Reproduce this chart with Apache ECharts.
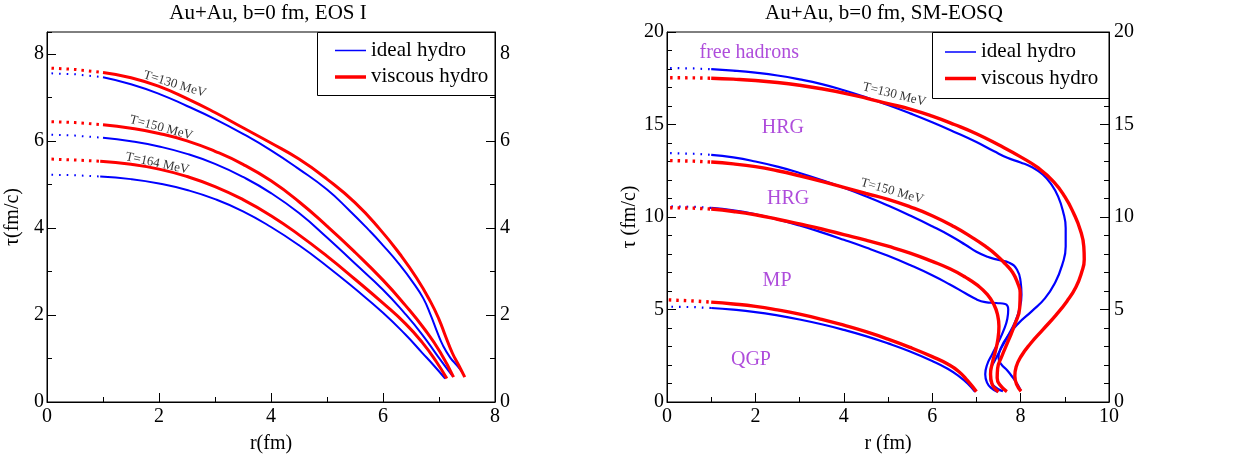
<!DOCTYPE html>
<html><head><meta charset="utf-8">
<script src="https://cdn.jsdelivr.net/npm/echarts@6/dist/echarts.min.js"></script>
<style>html,body{margin:0;padding:0;background:#fff}#c{width:1248px;height:459px}</style>
</head><body><div id="c"></div>
<script>
// ---------------- data ----------------
const leftXTicks = [0, 2, 4, 6, 8];
const leftYTicks = [0, 2, 4, 6, 8];
const rightXTicks = [0, 2, 4, 6, 8, 10];
const rightYTicks = [0, 5, 10, 15, 20];
const seriesNames = ['ideal hydro', 'viscous hydro'];

// Left panel (EOS I): r (fm), tau (fm/c)
const leftIdeal130 = [[0.08,7.55],[0.5,7.53],[1.0,7.46],[1.5,7.3],[2.0,7.08],[2.5,6.8],[3.0,6.5],[3.5,6.16],[4.0,5.78],[4.5,5.35],[5.0,4.88],[5.4,4.4],[5.74,3.96],[6.0,3.6],[6.3,3.15],[6.55,2.72],[6.72,2.38],[6.85,2.0],[6.97,1.6],[7.07,1.3],[7.2,1.02],[7.32,0.84],[7.43,0.66]];
const leftVisc130  = [[0.08,7.67],[0.5,7.64],[1.0,7.57],[1.5,7.45],[2.0,7.25],[2.5,6.97],[3.0,6.65],[3.5,6.3],[4.0,5.95],[4.5,5.58],[5.0,5.12],[5.5,4.58],[5.95,3.96],[6.3,3.4],[6.6,2.85],[6.85,2.3],[7.0,1.9],[7.12,1.5],[7.24,1.12],[7.35,0.85],[7.46,0.57]];
const leftIdeal150 = [[0.08,6.14],[0.5,6.12],[1.0,6.07],[1.5,5.99],[2.0,5.87],[2.5,5.7],[3.0,5.47],[3.5,5.17],[4.0,4.8],[4.5,4.34],[5.0,3.78],[5.5,3.18],[6.0,2.58],[6.4,2.02],[6.7,1.55],[6.98,1.05],[7.24,0.6]];
const leftVisc150  = [[0.08,6.44],[0.5,6.42],[1.0,6.37],[1.5,6.29],[2.0,6.17],[2.5,6.0],[3.0,5.76],[3.5,5.46],[4.0,5.08],[4.5,4.6],[5.0,4.04],[5.5,3.44],[6.0,2.8],[6.4,2.22],[6.75,1.66],[7.02,1.15],[7.26,0.57]];
const leftIdeal164 = [[0.08,5.22],[0.5,5.21],[0.95,5.18],[1.5,5.12],[2.0,5.02],[2.5,4.87],[3.0,4.66],[3.5,4.38],[4.0,4.02],[4.5,3.6],[5.0,3.12],[5.5,2.6],[6.0,2.05],[6.4,1.55],[6.7,1.13],[6.9,0.85],[7.11,0.54]];
const leftVisc164  = [[0.08,5.58],[0.5,5.56],[0.95,5.53],[1.5,5.46],[2.0,5.35],[2.5,5.18],[3.0,4.95],[3.5,4.65],[4.0,4.28],[4.5,3.84],[5.0,3.35],[5.5,2.82],[6.0,2.27],[6.4,1.8],[6.7,1.37],[6.95,0.93],[7.14,0.54]];

// Right panel (SM-EOSQ)
const rightIdeal130 = [[0.07,18.05],[0.6,18.03],[1.0,17.99],[1.5,17.91],[2.0,17.8],[2.5,17.65],[3.0,17.44],[3.5,17.18],[4.0,16.85],[4.5,16.47],[5.0,16.05],[5.5,15.6],[6.0,15.12],[6.5,14.6],[7.0,14.05],[7.4,13.55],[7.7,13.2],[8.0,12.95],[8.25,12.7],[8.5,12.3],[8.7,11.75],[8.85,11.1],[8.96,10.3],[9.02,9.4],[9.02,8.4],[8.94,7.4],[8.78,6.45],[8.55,5.6],[8.25,4.9],[7.95,4.25],[7.72,3.6],[7.56,2.95],[7.5,2.4],[7.56,2.05],[7.7,1.7],[7.83,1.3],[7.93,0.95],[8.0,0.62]];
const rightVisc130  = [[0.07,17.53],[0.6,17.52],[1.0,17.5],[1.5,17.45],[2.0,17.38],[2.5,17.27],[3.0,17.12],[3.5,16.93],[4.0,16.7],[4.5,16.43],[5.0,16.13],[5.5,15.83],[6.0,15.45],[6.5,15.0],[7.0,14.5],[7.5,13.9],[8.0,13.25],[8.4,12.65],[8.75,11.9],[9.0,11.1],[9.2,10.2],[9.35,9.3],[9.43,8.4],[9.44,7.7],[9.38,7.0],[9.25,6.2],[9.05,5.45],[8.8,4.7],[8.5,3.9],[8.22,3.15],[8.02,2.5],[7.9,1.9],[7.87,1.4],[7.91,0.95],[8.01,0.58]];
const rightIdeal150 = [[0.07,13.45],[0.6,13.42],[1.0,13.36],[1.5,13.22],[2.0,13.0],[2.5,12.72],[3.0,12.38],[3.5,12.0],[4.0,11.58],[4.5,11.12],[5.0,10.62],[5.5,10.08],[6.0,9.5],[6.4,9.0],[6.75,8.5],[7.0,8.12],[7.25,7.85],[7.5,7.68],[7.75,7.52],[7.92,7.15],[8.0,6.5],[8.02,5.8],[7.97,5.0],[7.87,4.3],[7.72,3.6],[7.56,2.9],[7.42,2.25],[7.32,1.7],[7.32,1.2],[7.42,0.82],[7.6,0.58]];
const rightVisc150  = [[0.07,13.05],[0.6,13.02],[1.0,12.97],[1.5,12.87],[2.0,12.72],[2.5,12.5],[3.0,12.23],[3.5,11.93],[4.0,11.6],[4.5,11.27],[5.0,10.95],[5.5,10.55],[6.0,10.07],[6.5,9.47],[6.9,8.9],[7.2,8.42],[7.45,7.95],[7.66,7.45],[7.82,7.0],[7.93,6.45],[7.99,5.9],[7.98,5.1],[7.87,4.2],[7.72,3.3],[7.58,2.5],[7.48,1.8],[7.47,1.3],[7.54,0.9],[7.69,0.56]];
const rightIdealMP  = [[0.1,10.57],[0.6,10.55],[1.0,10.49],[1.5,10.36],[2.0,10.15],[2.5,9.87],[3.0,9.54],[3.5,9.17],[4.0,8.77],[4.5,8.35],[5.0,7.9],[5.5,7.4],[6.0,6.85],[6.4,6.35],[6.75,5.88],[7.0,5.55],[7.2,5.4],[7.45,5.35],[7.65,5.3],[7.72,5.0],[7.7,4.5],[7.62,3.9],[7.5,3.25],[7.36,2.6],[7.24,2.0],[7.2,1.5],[7.24,1.05],[7.34,0.75],[7.47,0.56]];
const rightViscMP   = [[0.07,10.5],[0.6,10.48],[1.0,10.43],[1.5,10.3],[2.0,10.12],[2.5,9.88],[3.0,9.62],[3.5,9.35],[4.0,9.05],[4.5,8.75],[5.0,8.42],[5.5,8.05],[6.0,7.6],[6.4,7.2],[6.75,6.75],[7.03,6.3],[7.25,5.8],[7.4,5.25],[7.48,4.7],[7.51,4.1],[7.49,3.45],[7.43,2.75],[7.36,2.1],[7.32,1.5],[7.35,1.0],[7.41,0.75],[7.5,0.55]];
const rightIdealQGP = [[0.1,5.15],[0.6,5.13],[1.0,5.08],[1.5,4.99],[2.0,4.86],[2.5,4.68],[3.0,4.46],[3.5,4.2],[4.0,3.9],[4.5,3.56],[5.0,3.17],[5.5,2.73],[6.0,2.22],[6.35,1.8],[6.6,1.4],[6.8,1.0],[6.97,0.55]];
const rightViscQGP  = [[0.04,5.52],[0.6,5.46],[1.0,5.4],[1.5,5.3],[2.0,5.17],[2.5,4.98],[3.0,4.75],[3.5,4.47],[4.0,4.15],[4.5,3.8],[5.0,3.4],[5.5,2.95],[6.0,2.45],[6.35,2.05],[6.6,1.65],[6.8,1.15],[7.0,0.56]];

// annotation texts and anchors (data coordinates)
const leftTempLabels = ['T=130 MeV', 'T=150 MeV', 'T=164 MeV'];
const leftTempAnchors = [[2.28, 7.3], [2.04, 6.3], [1.97, 5.48]];
const leftTempAngles = [-17, -15, -12];
const rightTempLabels = ['T=130 MeV', 'T=150 MeV'];
const rightTempAnchors = [[5.14, 16.62], [5.09, 11.4]];
const rightTempAngles = [-14, -16];
const phaseLabels = ['free hadrons', 'HRG', 'HRG', 'MP', 'QGP'];
const phaseAnchors = [[1.86, 18.9], [2.62, 14.84], [2.74, 10.98], [2.49, 6.58], [1.9, 2.28]];

// ---------------- chart ----------------
const FONT = '"Liberation Serif","Times New Roman",serif';
const BLUE = '#0000ff', RED = '#ff0000', PURPLE = '#9a1fd2';
const chart = echarts.init(document.getElementById('c'), null, {renderer: 'canvas'});

const series = [];
function addCurve(data, xi, yi, name, color, width, dash) {
  let k = 0;
  while (k + 1 < data.length && data[k + 1][0] <= 1.0) k++;
  const z = name === seriesNames[1] ? 3 : 2;
  series.push({type: 'line', name, xAxisIndex: xi, yAxisIndex: yi, data: data.slice(k),
    smooth: 0.5, symbol: 'none', silent: true, lineStyle: {color, width}, itemStyle: {color}, z});
  series.push({type: 'line', name, xAxisIndex: xi, yAxisIndex: yi, data: data.slice(0, k + 1),
    smooth: false, symbol: 'none', silent: true, lineStyle: {color, width, type: dash}, itemStyle: {color}, z});
}
[leftIdeal130, leftIdeal150, leftIdeal164].forEach(d => addCurve(d, 0, 0, seriesNames[0], BLUE, 2, [1.6, 6]));
[leftVisc130, leftVisc150, leftVisc164].forEach(d => addCurve(d, 0, 0, seriesNames[1], RED, 3, [2.5, 5]));
[rightIdeal130, rightIdeal150, rightIdealMP, rightIdealQGP].forEach(d => addCurve(d, 1, 4, seriesNames[0], BLUE, 2.2, [1.6, 6]));
[rightVisc130, rightVisc150, rightViscMP, rightViscQGP].forEach(d => addCurve(d, 1, 4, seriesNames[1], RED, 3.4, [2.5, 5]));

function textSeries(xi, yi, texts, anchors, angles, color, size) {
  series.push({type: 'scatter', xAxisIndex: xi, yAxisIndex: yi, symbolSize: 1, silent: true, z: 5,
    itemStyle: {color: 'rgba(0,0,0,0)'},
    data: texts.map((t, i) => ({name: t, value: anchors[i], label: {rotate: angles ? angles[i] : 0}})),
    label: {show: true, position: 'inside', formatter: '{b}', color, fontFamily: FONT, fontSize: size}});
}
textSeries(0, 0, leftTempLabels, leftTempAnchors, leftTempAngles, '#000', 13);
textSeries(1, 4, rightTempLabels, rightTempAnchors, rightTempAngles, '#000', 13);
textSeries(1, 4, phaseLabels, phaseAnchors, null, PURPLE, 20);

const labelStyle = {fontFamily: FONT, fontSize: 20, color: '#000'};
function xAxis(grid, ticks, name) {
  return {type: 'value', gridIndex: grid, min: ticks[0], max: ticks[ticks.length - 1], interval: ticks[1] - ticks[0],
    axisLine: {show: true, onZero: false, lineStyle: {color: '#000', width: 1}},
    axisTick: {show: true, inside: true, length: 9, lineStyle: {color: '#000'}},
    minorTick: {show: true, splitNumber: 2, length: 5, lineStyle: {color: '#000'}},
    splitLine: {show: false},
    axisLabel: Object.assign({margin: 5}, labelStyle),
    name, nameLocation: 'middle', nameGap: 32, nameTextStyle: labelStyle};
}
function yAxis(grid, ticks, pos, name, max, opts) {
  const a = {type: 'value', gridIndex: grid, position: pos, min: ticks[0], max, interval: ticks[1] - ticks[0],
    axisLine: {show: true, onZero: false, lineStyle: {color: '#000', width: 1}},
    axisTick: {show: true, inside: true, length: 9, lineStyle: {color: '#000'}},
    splitLine: {show: false},
    axisLabel: Object.assign({margin: pos === 'left' ? 3 : 5, showMaxLabel: max === ticks[ticks.length - 1]}, labelStyle)};
  if (name) { a.name = name; a.nameLocation = 'middle'; a.nameGap = 24; a.nameTextStyle = labelStyle; }
  return Object.assign(a, opts || {});
}
const minorY = (pos) => ({type: 'value', gridIndex: 0, position: pos, min: 0, max: 8.5, interval: 1,
  axisLine: {show: false}, axisLabel: {show: false}, splitLine: {show: false},
  axisTick: {show: true, inside: true, length: 5, lineStyle: {color: '#000'}}});
const rightMinor = {minorTick: {show: true, splitNumber: 5, length: 5, lineStyle: {color: '#000'}}};

const option = {
  animation: false,
  backgroundColor: '#fff',
  grid: [
    {left: 47, top: 32, width: 448, height: 371, show: true, borderColor: '#000', borderWidth: 1, backgroundColor: 'transparent'},
    {left: 667, top: 32, width: 442, height: 371, show: true, borderColor: '#000', borderWidth: 1, backgroundColor: 'transparent'}
  ],
  xAxis: [xAxis(0, leftXTicks, 'r(fm)'), xAxis(1, rightXTicks, 'r (fm)')],
  yAxis: [
    yAxis(0, leftYTicks, 'left', 'τ(fm/c)', 8.5),
    yAxis(0, leftYTicks, 'right', null, 8.5),
    minorY('left'), minorY('right'),
    yAxis(1, rightYTicks, 'left', 'τ (fm/c)', 20, rightMinor),
    yAxis(1, rightYTicks, 'right', null, 20, rightMinor)
  ],
  series,
  graphic: [
    {type: 'text', x: 268, y: 13, style: {text: 'Au+Au, b=0 fm, EOS I', font: '21px ' + FONT, fill: '#000', textAlign: 'center', textVerticalAlign: 'middle'}},
    {type: 'text', x: 884, y: 13, style: {text: 'Au+Au, b=0 fm, SM-EOSQ', font: '21px ' + FONT, fill: '#000', textAlign: 'center', textVerticalAlign: 'middle'}},
    // legend boxes
    {type: 'rect', shape: {x: 317.5, y: 32.5, width: 177.5, height: 63}, style: {fill: '#fff', stroke: '#000', lineWidth: 1}, z: 10},
    {type: 'line', shape: {x1: 335, y1: 50.5, x2: 366, y2: 50.5}, style: {stroke: BLUE, lineWidth: 1.5}, z: 11},
    {type: 'text', x: 371, y: 50, style: {text: seriesNames[0], font: '21px ' + FONT, fill: '#000', textVerticalAlign: 'middle'}, z: 11},
    {type: 'line', shape: {x1: 335, y1: 77, x2: 366, y2: 77}, style: {stroke: RED, lineWidth: 3.5}, z: 11},
    {type: 'text', x: 371, y: 76, style: {text: seriesNames[1], font: '21px ' + FONT, fill: '#000', textVerticalAlign: 'middle'}, z: 11},
    {type: 'rect', shape: {x: 932.5, y: 32.5, width: 176.5, height: 66}, style: {fill: '#fff', stroke: '#000', lineWidth: 1}, z: 10},
    {type: 'line', shape: {x1: 945, y1: 52, x2: 976, y2: 52}, style: {stroke: BLUE, lineWidth: 1.5}, z: 11},
    {type: 'text', x: 981, y: 51, style: {text: seriesNames[0], font: '21px ' + FONT, fill: '#000', textVerticalAlign: 'middle'}, z: 11},
    {type: 'line', shape: {x1: 945, y1: 78.5, x2: 976, y2: 78.5}, style: {stroke: RED, lineWidth: 3.5}, z: 11},
    {type: 'text', x: 981, y: 78, style: {text: seriesNames[1], font: '21px ' + FONT, fill: '#000', textVerticalAlign: 'middle'}, z: 11}
  ]
};
chart.setOption(option);
</script></body></html>
